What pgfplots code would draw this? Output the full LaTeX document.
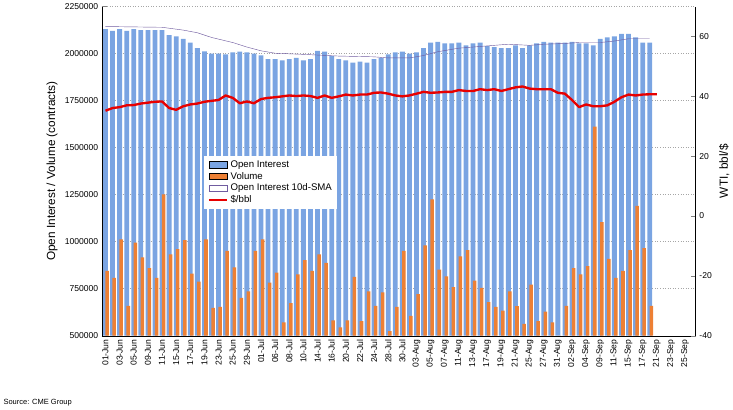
\documentclass[border=0pt]{standalone}
\usepackage{pgfplots}
\pgfplotsset{compat=1.18}
\usepackage{fontspec}
\setmainfont{Liberation Sans}
\definecolor{oiblue}{RGB}{122,164,226}
\definecolor{volor}{RGB}{237,128,52}
\definecolor{smap}{RGB}{112,92,160}
\definecolor{pred}{RGB}{232,0,0}
\begin{document}
\begin{tikzpicture}[x=1bp,y=1bp]
\pgfplotsset{every axis/.append style={scale only axis, width=552bp, height=306bp,
  xmin=-0.5, xmax=83.5, tick label style={font=\fontsize{8}{9}\selectfont}}}
\begin{axis}[
  ymin=500000, ymax=2250000, ytick={500000,750000,...,2250000},
  scaled y ticks=false,
  yticklabels={500000,750000,1000000,1250000,1500000,1750000,2000000,2250000},
  axis y line*=left, axis x line*=bottom,
  ymajorgrids, grid style={gray!70, dotted},
  xtick={0,2,...,82}, xtick style={draw=none},
  xticklabels={01-Jun,03-Jun,05-Jun,09-Jun,11-Jun,15-Jun,17-Jun,19-Jun,23-Jun,25-Jun,29-Jun,01-Jul,06-Jul,08-Jul,10-Jul,14-Jul,16-Jul,20-Jul,22-Jul,24-Jul,28-Jul,30-Jul,03-Aug,05-Aug,07-Aug,11-Aug,13-Aug,17-Aug,19-Aug,21-Aug,25-Aug,27-Aug,31-Aug,02-Sep,04-Sep,09-Sep,11-Sep,15-Sep,17-Sep,21-Sep,23-Sep,25-Sep},
  xticklabel style={rotate=90, anchor=east},
  ylabel={Open Interest / Volume (contracts)}, ylabel style={font=\fontsize{11}{12}\selectfont},
  legend style={at={(0.172,0.546)}, anchor=north west, draw=none, fill=white, font=\fontsize{9}{10}\selectfont, legend cell align=left, row sep=-1pt},
  legend image code/.code={\draw[#1] (0cm,-0.1cm) rectangle (0.6cm,0.1cm);},
  clip=true,
]
\addplot[ybar, bar width=0.68, bar shift=0, draw=none, fill=oiblue] coordinates {
(0,2130000)(1,2121000)(2,2130000)(3,2121000)(4,2130000)(5,2125000)(6,2125000)(7,2125000)(8,2125000)(9,2098000)(10,2092000)(11,2079000)(12,2059000)(13,2029000)(14,2012000)(15,2000000)(16,2000000)(17,1996000)(18,2006000)(19,2010000)(20,2006000)(21,2000000)
(22,1990000)(23,1971000)(24,1971000)(25,1964000)(26,1971000)(27,1977000)(28,1964000)(29,1971000)(30,2015000)(31,2010000)(32,1987000)(33,1971000)(34,1964000)(35,1952000)(36,1958000)(37,1952000)(38,1971000)(39,1977000)
(40,1996000)(41,2006000)(42,2010000)(43,2000000)(44,2006000)(45,2029000)(46,2059000)(47,2063000)(48,2054000)(49,2054000)(50,2059000)(51,2044000)(52,2054000)(53,2059000)(54,2040000)(55,2035000)(56,2029000)(57,2029000)(58,2044000)(59,2029000)(60,2044000)(61,2054000)(62,2063000)(63,2059000)(64,2059000)(65,2059000)(66,2063000)(67,2054000)(68,2054000)(69,2044000)(70,2079000)(71,2086000)(72,2092000)(73,2105000)(74,2105000)(75,2086000)(76,2059000)(77,2059000)};
\addlegendentry{Open Interest}
\addplot[ybar, bar width=0.5, bar shift=0.22, draw=none, fill=volor] coordinates {
(0,845000)(1,807000)(2,1012000)(3,659000)(4,995000)(5,916000)(6,859000)(7,807000)(8,1252000)(9,932000)(10,960000)(11,1008000)(12,830000)(13,788000)(14,1012000)(15,648000)(16,653000)(17,951000)(18,864000)(19,701000)(20,736000)(21,951000)
(22,1012000)(23,782000)(24,836000)(25,571000)(26,673000)(27,826000)(28,902000)(29,845000)(30,932000)(31,887000)(32,582000)(33,544000)(34,581000)(35,813000)(36,577000)(37,736000)(38,659000)(39,730000)
(40,525000)(41,653000)(42,951000)(43,605000)(44,721000)(45,980000)(46,1225000)(47,851000)(48,816000)(49,759000)(50,922000)(51,955000)(52,793000)(53,755000)(54,678000)(55,653000)(56,634000)(57,736000)(58,657000)(59,563000)(60,772000)(61,577000)(62,628000)(63,571000)(64,500000)(65,659000)(66,859000)(67,826000)(68,870000)(69,1612000)(70,1104000)(71,909000)(72,807000)(73,845000)(74,955000)(75,1190000)(76,966000)(77,659000)};
\addlegendentry{Volume}
\addplot[smap, thin, sharp plot] coordinates {
(0,2144000)(8,2140000)(11,2125000)(13,2111000)(15,2086000)(18,2059000)(20,2035000)(22,2015000)(24,2002000)(28,1996000)(33,1987000)(38,1983000)(40,1977000)(43,1977000)(45,1990000)(47,2010000)(50,2029000)(52,2035000)(55,2044000)(57,2050000)(60,2044000)(62,2050000)(65,2054000)(67,2059000)(70,2059000)(72,2067000)(74,2079000)(77,2079000)};
\addlegendentry{Open Interest 10d-SMA}
\addlegendimage{legend image code/.code={\draw[pred, line width=2.5pt] (0cm,0cm) -- (0.6cm,0cm);}}
\addlegendentry{\$/bbl}
\end{axis}
\begin{axis}[
  ymin=-40, ymax=70, ytick={-40,-20,...,60},
  yticklabels={-40,-20,0,20,40,60},
  axis y line*=right, axis x line=none,
  ylabel={WTI, bbl/\$}, ylabel style={font=\fontsize{11}{12}\selectfont},
]
\addplot[pred, line width=2.2pt, line join=round] coordinates {
(0,35.2)(1,36.1)(2,36.4)(3,37.0)(4,37.1)(5,37.6)(6,37.9)(7,38.2)(8,38.3)(9,36.1)(10,35.5)(11,36.7)(12,37.3)(13,37.6)(14,38.2)(15,38.5)(16,38.8)(17,40.3)(18,39.5)(19,37.7)(20,38.3)(21,37.7)(22,39.1)(23,39.5)(24,39.7)(25,40.0)(26,40.3)(27,40.1)(28,40.3)(29,40.1)(30,39.5)(31,40.3)(32,39.5)(33,40.0)(34,40.6)(35,40.3)(36,40.6)(37,40.6)(38,41.2)(39,41.3)
(40,40.9)(41,40.3)(42,40.0)(43,40.3)(44,40.9)(45,41.5)(46,41.2)(47,41.3)(48,41.5)(49,41.5)(50,42.1)(51,41.8)(52,41.8)(53,42.4)(54,42.1)(55,42.4)(56,41.8)(57,42.4)(58,43.0)(59,43.3)(60,42.6)(61,42.4)(62,42.4)(63,42.4)(64,41.2)(65,40.9)(66,38.8)(67,36.4)(68,37.3)(69,36.7)(70,36.7)(71,37.0)(72,38.2)(73,39.7)(74,40.6)(75,40.3)(76,40.6)(77,40.7)(78,40.7)};
\end{axis}
\node[anchor=west, font=\fontsize{7}{8}\selectfont] at (-95bp,-62bp) {Source: CME Group};
\end{tikzpicture}
\end{document}
